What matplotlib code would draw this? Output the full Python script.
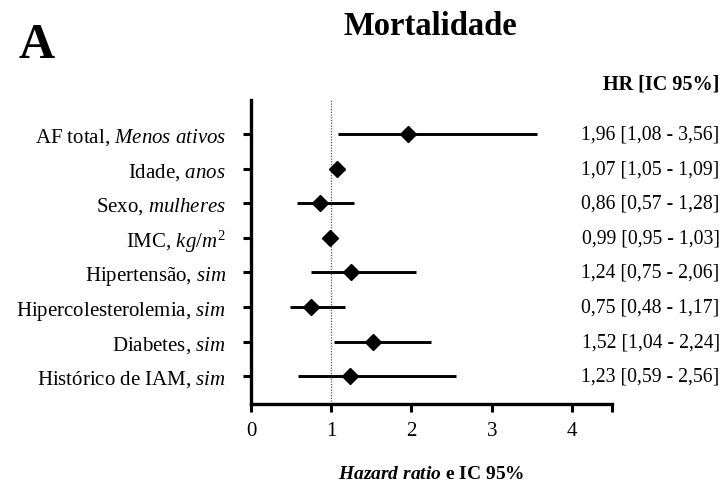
import numpy as np
import matplotlib as mpl
mpl.use("Agg")
import matplotlib.pyplot as plt
import matplotlib.transforms as mtransforms

plt.rcParams['font.family'] = ['Liberation Serif', 'DejaVu Serif']
plt.rcParams['mathtext.fontset'] = 'custom'
plt.rcParams['mathtext.rm'] = 'Liberation Serif'
plt.rcParams['mathtext.it'] = 'Liberation Serif:italic'
plt.rcParams['mathtext.bf'] = 'Liberation Serif:italic:bold'

# Modelo de Cox - mortalidade
variaveis = [r'AF total, $\mathit{Menos\ ativos}$',
             r'Idade, $\mathit{anos}$',
             r'Sexo, $\mathit{mulheres}$',
             r'IMC, $\mathit{kg/m^2}$',
             r'Hipertensão, $\mathit{sim}$',
             r'Hipercolesterolemia, $\mathit{sim}$',
             r'Diabetes, $\mathit{sim}$',
             r'Histórico de IAM, $\mathit{sim}$']
hr = [1.96, 1.07, 0.86, 0.99, 1.24, 0.75, 1.52, 1.23]
ic_inf = [1.08, 1.05, 0.57, 0.95, 0.75, 0.48, 1.04, 0.59]
ic_sup = [3.56, 1.09, 1.28, 1.03, 2.06, 1.17, 2.24, 2.56]
xticks = [0, 1, 2, 3, 4]

def fmt(v):
    return f'{v:.2f}'.replace('.', ',')

hr = np.array(hr)
ic_inf = np.array(ic_inf)
ic_sup = np.array(ic_sup)
ypos = np.arange(len(hr))

fig = plt.figure(figsize=(7.27, 4.89), dpi=100)
ax = fig.add_axes([0.3453, 0.1718, 0.4966, 0.6217])

ax.axvline(1, color='#555555', lw=0.9, ls=(0, (1, 1.2)), zorder=1)
ax.hlines(ypos, ic_inf, ic_sup, color='black', lw=2.1, zorder=2)
ax.plot(hr, ypos, 'D', color='black', ms=8.5, zorder=3)

ax.set_xlim(0, 4.5)
ax.set_ylim(7.8, -0.98)
ax.set_xticks(xticks)
ax.set_xticks([4.5], minor=True)
ax.set_yticks(ypos)
ax.set_yticklabels(variaveis, fontsize=15)
ax.tick_params(axis='x', labelsize=15, length=6, width=2.2, pad=6, which='both')
ax.tick_params(axis='y', length=6, width=2.2, pad=12)
for s in ['top', 'right']:
    ax.spines[s].set_visible(False)
for s in ['left', 'bottom']:
    ax.spines[s].set_linewidth(2.4)

ax.set_xlabel(r'$\mathbf{Hazard\ ratio}$ e IC 95%', fontsize=14,
              fontweight='bold', labelpad=18)

# coluna com HR [IC 95%]
trans = mtransforms.blended_transform_factory(fig.transFigure, ax.transData)
for y, h, lo, hi in zip(ypos, hr, ic_inf, ic_sup):
    ax.text(0.99, y, f'{fmt(h)} [{fmt(lo)} - {fmt(hi)}]', transform=trans,
            ha='right', va='center', fontsize=14.2)
ax.text(0.99, -1.45, 'HR [IC 95%]', transform=trans, ha='right',
        va='center', fontsize=14.5, fontweight='bold')

fig.text(0.592, 0.945, 'Mortalidade', ha='center', va='center',
         fontsize=23.5, fontweight='bold')
fig.text(0.05, 0.905, 'A', ha='center', va='center', fontsize=36,
         fontweight='bold')

fig.savefig('out.png', dpi=100)
